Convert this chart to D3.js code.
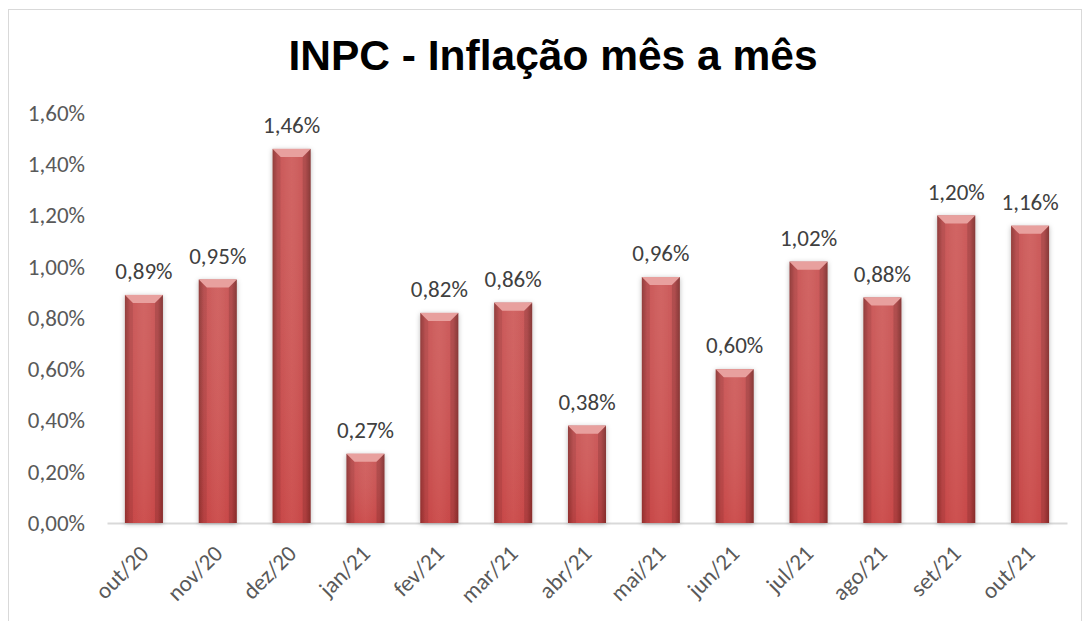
<!DOCTYPE html>
<html>
<head>
<meta charset="utf-8">
<script src="https://cdn.jsdelivr.net/npm/d3@7"></script>
<style>
  body { margin: 0; background: #fff; }
  svg { display: block; }
</style>
</head>
<body>
<script>
// data
var months = ["out/20", "nov/20", "dez/20", "jan/21", "fev/21", "mar/21", "abr/21",
              "mai/21", "jun/21", "jul/21", "ago/21", "set/21", "out/21"];
var inpc = [0.89, 0.95, 1.46, 0.27, 0.82, 0.86, 0.38, 0.96, 0.60, 1.02, 0.88, 1.20, 1.16];
var yTicks = [0, 0.2, 0.4, 0.6, 0.8, 1.0, 1.2, 1.4, 1.6];

var W = 1091, H = 621;
var margin = {top: 113, right: 24, bottom: 98, left: 107};
var width = W - margin.left - margin.right,
    height = H - margin.top - margin.bottom;

var fmt = function(v) { return v.toFixed(2).replace(".", ",") + "%"; };
var font = "Carlito, Calibri, 'Open Sans', sans-serif";

var svg = d3.select("body").append("svg")
  .attr("width", W)
  .attr("height", H);

// bar gradient + shadow
var defs = svg.append("defs");
var grad = defs.append("linearGradient").attr("id", "barGrad")
  .attr("x1", "0").attr("x2", "1").attr("y1", "0").attr("y2", "0");
grad.append("stop").attr("offset", "0").attr("stop-color", "#963432");
grad.append("stop").attr("offset", "0.14").attr("stop-color", "#c44a4b");
grad.append("stop").attr("offset", "0.5").attr("stop-color", "#cd5856");
grad.append("stop").attr("offset", "0.86").attr("stop-color", "#c44a4b");
grad.append("stop").attr("offset", "1").attr("stop-color", "#903230");
var vgrad = defs.append("linearGradient").attr("id", "barShade")
  .attr("x1", "0").attr("x2", "0").attr("y1", "0").attr("y2", "1");
vgrad.append("stop").attr("offset", "0").attr("stop-color", "#fff").attr("stop-opacity", 0.08);
vgrad.append("stop").attr("offset", "1").attr("stop-color", "#d03030").attr("stop-opacity", 0.15);
var shadow = defs.append("filter").attr("id", "shadow")
  .attr("x", "-30%").attr("y", "-10%").attr("width", "160%").attr("height", "120%");
shadow.append("feDropShadow").attr("dx", 0).attr("dy", 1).attr("stdDeviation", 2.5)
  .attr("flood-color", "#000").attr("flood-opacity", 0.28);

// chart frame
svg.append("rect")
  .attr("x", 8.5).attr("y", 9.5)
  .attr("width", 1073).attr("height", 640)
  .attr("fill", "none")
  .attr("stroke", "#d9d9d9");

svg.append("text")
  .attr("x", 553).attr("y", 70)
  .attr("text-anchor", "middle")
  .style("font-family", "Arial, 'Liberation Sans', sans-serif")
  .style("font-weight", "bold")
  .style("font-size", "42.5px")
  .attr("fill", "#000")
  .text("INPC - Inflação mês a mês");

var g = svg.append("g")
  .attr("transform", "translate(" + margin.left + "," + margin.top + ")");

var x = d3.scaleBand().domain(months).range([0, width]).paddingInner(0.485).paddingOuter(0.2425);
var y = d3.scaleLinear().domain([0, 1.6]).range([height, 0]);

// y axis (labels only)
var yAxis = g.append("g")
  .call(d3.axisLeft(y).tickValues(yTicks).tickFormat(fmt).tickSize(0).tickPadding(22));
yAxis.select(".domain").remove();
yAxis.selectAll("text")
  .style("font-family", font).style("font-size", "23px").attr("fill", "#595959");

// x axis
var xAxis = g.append("g")
  .attr("transform", "translate(0," + height + ")")
  .call(d3.axisBottom(x).tickSize(0));
xAxis.select(".domain").attr("stroke", "#d9d9d9").attr("stroke-width", 2);
xAxis.selectAll("text")
  .style("font-family", font).style("font-size", "23px").attr("fill", "#595959")
  .attr("text-anchor", "end")
  .attr("dy", 0)
  .attr("transform", "translate(4,30) rotate(-45)");

// bars
var bars = g.selectAll(".bar").data(inpc).enter().append("g")
  .attr("class", "bar")
  .attr("transform", function(d, i) { return "translate(" + x(months[i]) + ",0)"; });

var bw = x.bandwidth(), bev = 8;

bars.append("rect")
  .attr("y", function(d) { return y(d); })
  .attr("width", bw)
  .attr("height", function(d) { return height - y(d); })
  .attr("fill", "url(#barGrad)")
  .attr("filter", "url(#shadow)");

bars.append("rect")
  .attr("y", function(d) { return y(d); })
  .attr("width", bw)
  .attr("height", function(d) { return height - y(d); })
  .attr("fill", "url(#barShade)");

// top bevel
bars.append("path")
  .attr("d", function(d) {
    var t = y(d);
    return "M0," + t + "L" + bw + "," + t + "L" + (bw - bev) + "," + (t + bev) + "L" + bev + "," + (t + bev) + "Z";
  })
  .attr("fill", "#e8a09e");
// side bevels
bars.append("path")
  .attr("d", function(d) {
    var t = y(d);
    return "M0," + t + "L" + bev + "," + (t + bev) + "L" + bev + "," + height + "L0," + height + "Z";
  })
  .attr("fill", "#000").attr("opacity", 0.08);
bars.append("path")
  .attr("d", function(d) {
    var t = y(d);
    return "M" + bw + "," + t + "L" + (bw - bev) + "," + (t + bev) + "L" + (bw - bev) + "," + height + "L" + bw + "," + height + "Z";
  })
  .attr("fill", "#000").attr("opacity", 0.12);

// data labels
g.selectAll(".lbl").data(inpc).enter().append("text")
  .attr("class", "lbl")
  .attr("x", function(d, i) { return x(months[i]) + bw / 2; })
  .attr("y", function(d) { return y(d) - 16; })
  .attr("text-anchor", "middle")
  .style("font-family", font).style("font-size", "23px")
  .attr("fill", "#404040")
  .text(fmt);
</script>
</body>
</html>
